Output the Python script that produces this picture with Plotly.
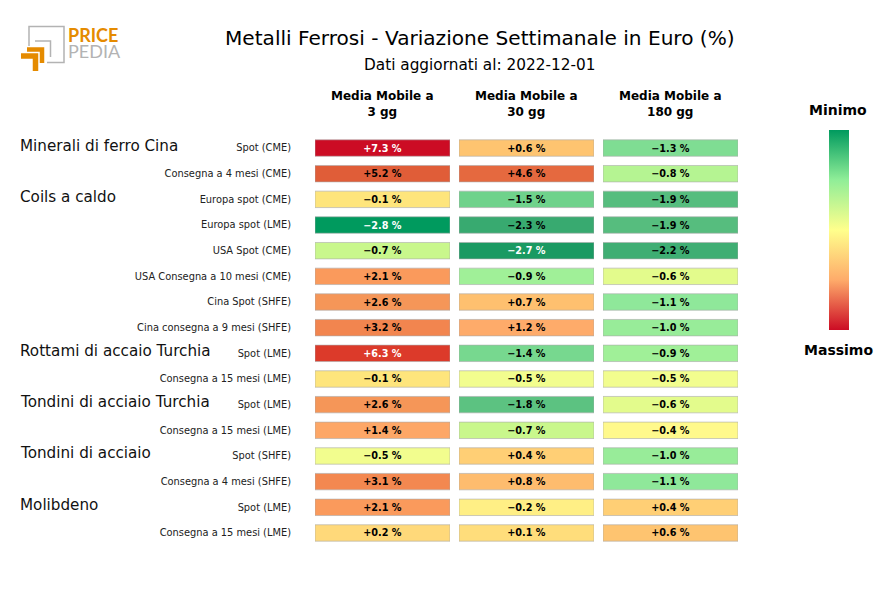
import plotly.graph_objects as go

W, H = 880, 600
labels = ["Spot (CME)", "Consegna a 4 mesi (CME)", "Europa spot (CME)", "Europa spot (LME)", "USA Spot (CME)",
          "USA Consegna a 10 mesi (CME)", "Cina Spot (SHFE)", "Cina consegna a 9 mesi (SHFE)", "Spot (LME)",
          "Consegna a 15 mesi (LME)", "Spot (LME)", "Consegna a 15 mesi (LME)", "Spot (SHFE)",
          "Consegna a 4 mesi (SHFE)", "Spot (LME)", "Consegna a 15 mesi (LME)"]
rows = list(range(len(labels)))
ma3 = [7.3, 5.2, -0.1, -2.8, -0.7, 2.1, 2.6, 3.2, 6.3, -0.1, 2.6, 1.4, -0.5, 3.1, 2.1, 0.2]
ma30 = [0.6, 4.6, -1.5, -2.3, -2.7, -0.9, 0.7, 1.2, -1.4, -0.5, -1.8, -0.7, 0.4, 0.8, -0.2, 0.1]
ma180 = [-1.3, -0.8, -1.9, -1.9, -2.2, -0.6, -1.1, -1.0, -0.9, -0.5, -0.6, -0.4, -1.0, -1.1, 0.4, 0.6]
headers = ["Media Mobile a<br>3 gg", "Media Mobile a<br>30 gg", "Media Mobile a<br>180 gg"]
groups = ["Minerali di ferro Cina", "Coils a caldo", "Rottami di accaio Turchia",
          "Tondini di acciaio Turchia", "Tondini di acciaio", "Molibdeno"]
group_rows = [0, 2, 8, 10, 12, 14]

value_stops = [(-2.8, "#009a5e"), (-2.7, "#1a9a62"), (-2.2, "#3fae73"), (-1.9, "#56bd7e"), (-1.5, "#6fd28b"),
               (-1.1, "#8fe89a"), (-0.9, "#a0f098"), (-0.7, "#c9f78c"), (-0.6, "#e3fb8c"), (-0.5, "#f2fd8e"),
               (-0.4, "#fff98c"), (-0.2, "#ffef85"), (-0.1, "#fee57c"), (0.2, "#ffd97a"), (0.6, "#fec470"),
               (1.2, "#feab6a"), (2.1, "#fa9a5c"), (2.6, "#f59658"), (3.2, "#f2854f"), (5.2, "#e05d38"),
               (6.3, "#dc3a2a"), (7.3, "#cc0c24")]
vmin, vmax = value_stops[0][0], value_stops[-1][0]
scale = [[(v - vmin) / (vmax - vmin), c] for v, c in value_stops]
bar_scale = [[0, "#cc0c24"], [0.25, "#feab6a"], [0.5, "#ffff8c"], [0.75, "#90ee98"], [1, "#009a5e"]]

FONT = "DejaVu Sans"
def px(x): return x / W
def py(y): return 1 - y / H

def fmt(v):
    return ("+" if v >= 0 else "\u2212") + f"{abs(v):.1f} %"

fig = go.Figure()
columns = [ma3, ma30, ma180]
spans = [(315, 450), (459, 594), (603, 738)]
top, bottom = 135.2, 545.8
layout_axes = {}
for i, (vals, (a, b)) in enumerate(zip(columns, spans)):
    n = "" if i == 0 else str(i + 1)
    fig.add_trace(go.Bar(
        y=rows, x=[1] * len(vals), orientation="h", width=0.64,
        xaxis=f"x{n}", yaxis=f"y{n}", showlegend=False, hoverinfo="skip",
        marker=dict(color=vals, colorscale=scale, cmin=vmin, cmax=vmax, showscale=False,
                    line=dict(color="rgba(170,170,170,0.6)", width=1)),
        text=[fmt(v) for v in vals], textposition="inside", insidetextanchor="middle", textangle=0,
        constraintext="none",
        textfont=dict(family=FONT, size=9.7, weight="bold",
                      color=["white" if v >= 6 or v <= -2.7 else "black" for v in vals]),
    ))
    layout_axes[f"xaxis{n}"] = dict(domain=[px(a), px(b)], range=[0, 1], visible=False, fixedrange=True)
    layout_axes[f"yaxis{n}"] = dict(domain=[py(bottom), py(top)], range=[15.5, -0.5], fixedrange=True,
                                    showgrid=False, zeroline=False, showline=False,
                                    ticks="outside" if i == 0 else "", ticklen=21, tickcolor="rgba(0,0,0,0)",
                                    tickvals=rows, ticktext=labels if i == 0 else None,
                                    showticklabels=(i == 0),
                                    tickfont=dict(family=FONT, size=9.85, color="#222"), anchor=f"x{n}")
    fig.add_annotation(xref=f"x{n} domain", x=0.5, xshift=-1, xanchor="center", yref="paper", y=py(104), yanchor="middle",
                       text=f"<b>{headers[i]}</b>", showarrow=False,
                       font=dict(family=FONT, size=12, color="black"))

fig.add_trace(go.Scatter(x=[None], y=[None], mode="markers", showlegend=False, hoverinfo="skip",
                         marker=dict(color=[0], colorscale=bar_scale, cmin=0, cmax=1, showscale=True,
                                     colorbar=dict(x=px(829), xanchor="left", y=py(230), yanchor="middle",
                                                   thickness=20, thicknessmode="pixels", len=200, lenmode="pixels",
                                                   outlinewidth=0, ticks="", showticklabels=False, xpad=0, ypad=0))))

for g, r in zip(groups, group_rows):
    fig.add_annotation(xref="paper", x=px(18), xanchor="left", yref="y", y=r, yshift=2.5, text=g, showarrow=False,
                       font=dict(family=FONT, size=15.2, color="#111"))

def txt(x, y, s, size, color="black", family=FONT, anchor="center"):
    fig.add_annotation(xref="paper", yref="paper", x=px(x), y=py(y), text=s, showarrow=False,
                       xanchor=anchor, yanchor="middle", align="left" if anchor == "left" else "center",
                       font=dict(family=family, size=size, color=color))

GREY, ORANGE = "#b3b3b3", "#e58b00"
txt(480, 38, "Metalli Ferrosi - Variazione Settimanale in Euro (%)", 20.1)
txt(480, 65, "Dati aggiornati al: 2022-12-01", 15.3)
txt(838, 110, "<b>Minimo</b>", 14)
txt(838, 350, "<b>Massimo</b>", 14)
txt(65.5, 43, f'<span style="font-size:18px;color:{ORANGE}"><b>PRICE</b></span><br>'
              f'<span style="font-size:18px;color:{GREY}">PEDIA</span>', 12.3, GREY, "Lato", "left")

# logo mark
shapes = []
def path(pts, color, w):
    d = "M " + " L ".join(f"{px(x):.5f},{py(y):.5f}" for x, y in pts)
    shapes.append(dict(type="path", xref="paper", yref="paper", path=d, line=dict(color=color, width=w)))
path([(29, 46), (29, 26.5), (64, 26.5), (64, 62.5), (47, 62.5)], GREY, 1.5)
path([(35, 41), (50.5, 41), (50.5, 57)], GREY, 1.5)
path([(27, 49.5), (42, 49.5), (42, 63)], ORANGE, 4.5)
path([(21, 56), (35.5, 56), (35.5, 71)], ORANGE, 5.5)

fig.update_layout(width=W, height=H, autosize=False, margin=dict(l=0, r=0, t=0, b=0), paper_bgcolor="white",
                  plot_bgcolor="white", shapes=shapes, barmode="overlay", **layout_axes)
fig.write_html("out.html", config={"displayModeBar": False},
               post_script="document.body.style.margin='0';document.body.style.overflow='hidden';")
